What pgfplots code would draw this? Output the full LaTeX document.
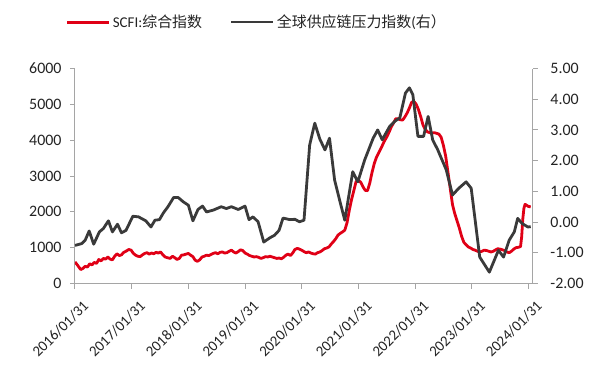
\documentclass[border=0pt]{standalone}
\usepackage{pgfplots}
\pgfplotsset{compat=1.18}
\usepackage{fontspec}
\setmainfont{Carlito}
\newfontfamily\cjk{Noto Sans CJK SC}
\definecolor{scfired}{RGB}{224,0,22}
\definecolor{gscpi}{RGB}{58,58,58}
\definecolor{axgray}{RGB}{165,165,165}
\definecolor{txt}{RGB}{35,35,35}

\pgfplotstableread{
x y
2016.00 603
2016.05 500
2016.10 390
2016.14 420
2016.18 480
2016.22 460
2016.26 550
2016.30 520
2016.34 590
2016.38 560
2016.42 670
2016.46 630
2016.50 700
2016.54 680
2016.58 740
2016.62 680
2016.66 660
2016.70 760
2016.74 830
2016.78 780
2016.82 800
2016.86 870
2016.91 910
2016.95 950
2016.99 930
2017.03 840
2017.07 790
2017.11 760
2017.15 750
2017.19 800
2017.23 840
2017.27 860
2017.31 820
2017.35 850
2017.39 830
2017.43 870
2017.47 850
2017.51 880
2017.55 800
2017.59 740
2017.63 720
2017.68 700
2017.72 760
2017.76 720
2017.80 670
2017.84 700
2017.88 790
2017.92 800
2017.96 820
2018.00 840
2018.04 790
2018.08 750
2018.12 650
2018.16 620
2018.20 660
2018.24 740
2018.28 760
2018.32 790
2018.36 780
2018.40 810
2018.44 840
2018.48 860
2018.52 830
2018.56 870
2018.60 880
2018.64 850
2018.68 860
2018.72 900
2018.76 930
2018.80 880
2018.84 850
2018.88 890
2018.92 940
2018.96 920
2019.00 850
2019.04 820
2019.08 780
2019.12 760
2019.16 740
2019.20 750
2019.24 730
2019.28 700
2019.32 720
2019.36 750
2019.40 740
2019.44 760
2019.48 740
2019.52 720
2019.56 700
2019.60 710
2019.64 690
2019.68 730
2019.72 790
2019.76 820
2019.80 780
2019.84 850
2019.88 950
2019.92 980
2019.96 960
2020.00 930
2020.04 890
2020.08 860
2020.12 880
2020.16 850
2020.20 830
2020.24 820
2020.28 860
2020.32 880
2020.36 920
2020.40 970
2020.44 990
2020.48 1020
2020.52 1100
2020.56 1170
2020.60 1250
2020.64 1350
2020.68 1400
2020.72 1440
2020.76 1490
2020.80 1700
2020.84 2050
2020.88 2350
2020.92 2600
2020.96 2850
2021.00 2870
2021.04 2830
2021.08 2700
2021.12 2600
2021.16 2590
2021.20 2800
2021.24 3100
2021.28 3350
2021.32 3530
2021.36 3650
2021.41 3810
2021.45 3950
2021.50 4090
2021.54 4220
2021.58 4370
2021.62 4480
2021.66 4600
2021.70 4600
2021.74 4570
2021.78 4560
2021.82 4650
2021.86 4760
2021.90 4900
2021.94 5060
2021.98 5080
2022.02 5000
2022.06 4850
2022.10 4650
2022.14 4420
2022.18 4300
2022.22 4230
2022.26 4210
2022.30 4200
2022.34 4210
2022.38 4190
2022.42 4170
2022.46 4080
2022.50 3850
2022.54 3550
2022.58 3100
2022.62 2650
2022.66 2200
2022.70 1950
2022.74 1750
2022.78 1550
2022.82 1320
2022.86 1150
2022.90 1080
2022.94 1020
2022.98 990
2023.02 950
2023.06 930
2023.10 900
2023.14 880
2023.18 900
2023.22 930
2023.26 920
2023.30 900
2023.34 880
2023.38 900
2023.42 940
2023.46 970
2023.50 960
2023.54 940
2023.58 920
2023.62 880
2023.66 860
2023.70 900
2023.74 960
2023.78 1000
2023.82 1010
2023.86 1030
2023.88 1300
2023.90 1800
2023.92 2100
2023.94 2210
2023.97 2180
2024.00 2150
2024.04 2140
}\scfi

\pgfplotstableread{
x y
2016.00 -0.76
2016.12 -0.70
2016.18 -0.59
2016.25 -0.29
2016.33 -0.72
2016.43 -0.32
2016.50 -0.21
2016.59 0.04
2016.66 -0.32
2016.75 -0.07
2016.82 -0.35
2016.90 -0.27
2017.02 0.19
2017.12 0.17
2017.25 0.04
2017.34 -0.16
2017.41 0.06
2017.49 0.08
2017.56 0.30
2017.64 0.50
2017.74 0.80
2017.82 0.80
2017.91 0.66
2018.00 0.55
2018.08 0.04
2018.17 0.41
2018.25 0.52
2018.32 0.33
2018.44 0.39
2018.58 0.50
2018.67 0.44
2018.76 0.50
2018.88 0.41
2019.00 0.52
2019.07 0.08
2019.14 0.17
2019.23 0.01
2019.33 -0.65
2019.44 -0.51
2019.52 -0.43
2019.60 -0.27
2019.67 0.13
2019.79 0.08
2019.88 0.09
2019.96 0.01
2020.04 0.06
2020.14 2.51
2020.23 3.22
2020.32 2.70
2020.41 2.35
2020.49 2.73
2020.58 1.37
2020.67 0.70
2020.76 0.06
2020.90 1.64
2020.99 1.31
2021.11 2.02
2021.26 2.73
2021.34 3.00
2021.42 2.68
2021.55 3.11
2021.64 3.28
2021.73 3.39
2021.83 4.20
2021.90 4.37
2021.96 4.15
2022.05 2.79
2022.15 2.79
2022.23 3.44
2022.31 2.68
2022.40 2.35
2022.55 1.70
2022.66 0.88
2022.77 1.10
2022.90 1.31
2022.99 1.10
2023.14 -1.14
2023.31 -1.63
2023.47 -0.92
2023.56 -1.14
2023.66 -0.59
2023.75 -0.32
2023.81 0.12
2023.89 -0.05
2023.99 -0.16
2024.04 -0.15
}\gscpi

\pgfplotsset{
  base/.style={
    scale only axis, width=458bp, height=215bp,
    xmin=2016, xmax=2024.08,
    tick label style={font=\fontsize{16}{19}\selectfont, text=txt},
    /pgf/number format/assume math mode=true,
    axis line style={axgray, line width=1bp, -},
    tick style={axgray, line width=1bp},
    major tick length=5bp,
    tick align=outside,
    scaled ticks=false,
  }
}

\begin{document}
\begin{tikzpicture}
\begin{axis}[base,
  axis y line*=left, axis x line*=bottom,
  ymin=0, ymax=6000, ytick={0,1000,...,6000},
  yticklabel style={/pgf/number format/set thousands separator={}, xshift=-5bp},
  xtick={2016,2017,...,2024},
  xticklabels={2016/01/31,2017/01/31,2018/01/31,2019/01/31,2020/01/31,2021/01/31,2022/01/31,2023/01/31,2024/01/31},
  xticklabel style={font=\fontsize{15}{18}\selectfont, xshift=7bp, yshift=-8bp, rotate=45, anchor=north east, inner sep=2bp},
]
\addplot[scfired, line width=2.8bp, line join=round] table[x=x,y=y]{\scfi};
\end{axis}
\begin{axis}[base,
  axis y line*=right, axis x line=none,
  ymin=-2, ymax=5, ytick={-2,-1,...,5},
  yticklabel style={/pgf/number format/fixed, /pgf/number format/fixed zerofill, /pgf/number format/precision=2},
  every y tick label/.append style={xshift=9bp},
  legend style={at={(0.397,1.216)}, anchor=center, draw=none, fill=none,
    legend columns=2, font=\fontsize{15}{18}\selectfont, text=txt,
    /tikz/every even column/.append style={column sep=26bp}},
  legend image code/.code={\draw[#1] (0bp,0bp) -- (42bp,0bp);},
]
\addlegendimage{scfired, line width=3bp}
\addlegendentry{SCFI:{\cjk 综合指数}}
\addplot[gscpi, line width=2.8bp, line join=round] table[x=x,y=y]{\gscpi};
\addlegendentry{{\cjk 全球供应链压力指数}({\cjk 右）}}
\end{axis}
\pgfresetboundingbox
\useasboundingbox (-75bp,-98.5bp) rectangle (534bp,283.5bp);
\end{tikzpicture}
\end{document}
